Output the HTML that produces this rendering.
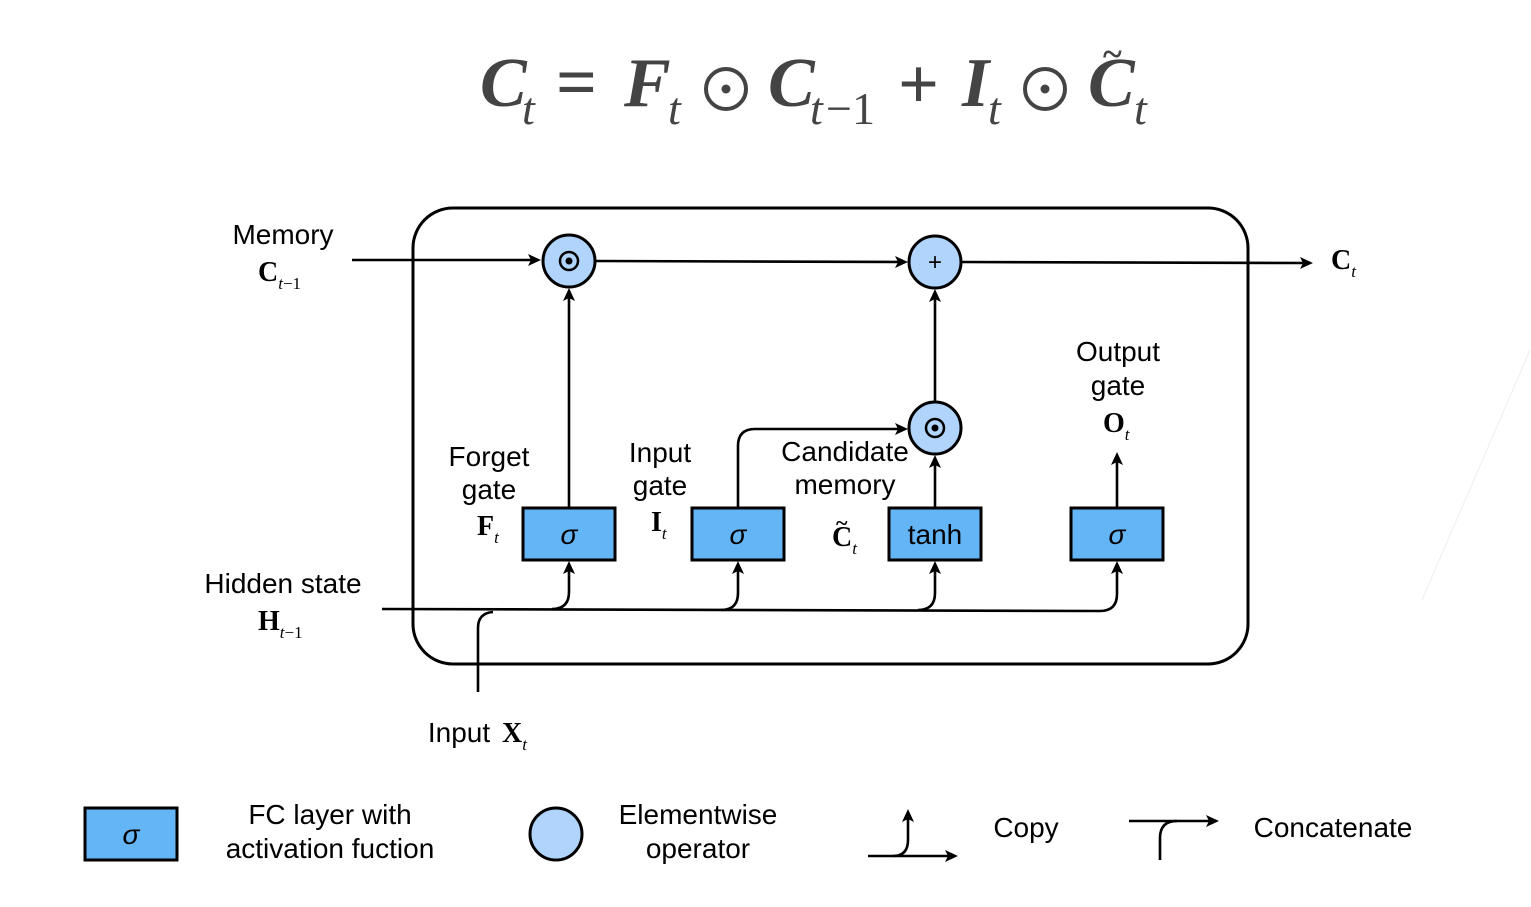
<!DOCTYPE html>
<html><head><meta charset="utf-8"><style>
html,body{margin:0;padding:0;background:#fff;width:1531px;height:907px;overflow:hidden}
svg{display:block}
.s{font-family:"Liberation Sans",sans-serif;font-size:28px;fill:#000}
.m{font-family:"Liberation Serif",serif;font-weight:bold;font-size:28px}
.sub{font-family:"Liberation Serif",serif;font-style:italic;font-weight:normal;font-size:17px}
.eq{font-family:"Liberation Serif",serif;font-style:italic;font-weight:bold;font-size:70px;fill:#444}
.eqs{font-family:"Liberation Serif",serif;font-style:italic;font-weight:normal;font-size:46px;fill:#444}
</style></head><body>
<svg width="1531" height="907" viewBox="0 0 1531 907" xmlns="http://www.w3.org/2000/svg">
<!-- equation -->
<text x="480" y="106" class="eq">C</text><text x="522" y="124" class="eqs">t</text>
<text x="556" y="106" style="font-family:'Liberation Serif',serif;font-size:72px;font-weight:bold;fill:#444">=</text>
<text x="624" y="106" class="eq">F</text><text x="668" y="124" class="eqs">t</text>
<circle cx="726" cy="89" r="20" fill="none" stroke="#444" stroke-width="4"/><circle cx="726" cy="89" r="4.5" fill="#444"/>
<text x="768" y="106" class="eq">C</text><text x="810" y="124" class="eqs">t</text>
<text x="826" y="124" style="font-family:'Liberation Serif',serif;font-size:46px;fill:#444">−1</text>
<text x="898" y="108" style="font-family:'Liberation Serif',serif;font-size:72px;font-weight:bold;fill:#444">+</text>
<text x="962" y="106" class="eq">I</text><text x="988" y="124" class="eqs">t</text>
<circle cx="1045" cy="89" r="20" fill="none" stroke="#444" stroke-width="4"/><circle cx="1045" cy="89" r="4.5" fill="#444"/>
<text x="1088" y="106" class="eq">C</text><text x="1134" y="124" class="eqs">t</text>
<text x="1103" y="66" style="font-family:'Liberation Serif',serif;font-size:36px;font-weight:bold;fill:#444">~</text>

<line x1="1530" y1="350" x2="1422" y2="600" stroke="#eee" stroke-width="1"/>

<rect x="413" y="208" width="835" height="456" rx="40" fill="none" stroke="#000" stroke-width="3"/>

<g stroke="#000" stroke-width="2.6" fill="none">
<line x1="352" y1="260" x2="536" y2="260"/>
<line x1="595" y1="261" x2="903" y2="262"/>
<line x1="961" y1="262" x2="1308" y2="263"/>
<line x1="569" y1="508" x2="569" y2="293"/>
<line x1="935" y1="402" x2="935" y2="294"/>
<line x1="935" y1="508" x2="935" y2="460"/>
<line x1="1117" y1="508" x2="1117" y2="457"/>
<path d="M738 508 V446 Q738 429 755 429 H903"/>
<path d="M382 609 L1100 611 Q1117 611 1117 594 V566"/>
<path d="M552 609 Q569 609 569 592 V566"/>
<path d="M721 610 Q738 610 738 593 V566"/>
<path d="M918 610 Q935 610 935 593 V566"/>
<path d="M478 692 V628 Q478 613 493 612"/>
</g>
<g fill="#000">
<path d="M541 260 l-13 -6 l3 6 l-3 6z"/>
<path d="M908 262 l-13 -6 l3 6 l-3 6z"/>
<path d="M1313 263 l-13 -6 l3 6 l-3 6z"/>
<path d="M908 429 l-13 -6 l3 6 l-3 6z"/>
<path d="M569 288 l-6 13 l6 -3 l6 3z"/>
<path d="M935 289 l-6 13 l6 -3 l6 3z"/>
<path d="M935 455 l-6 13 l6 -3 l6 3z"/>
<path d="M1117 452 l-6 13 l6 -3 l6 3z"/>
<path d="M569 561 l-6 13 l6 -3 l6 3z"/>
<path d="M738 561 l-6 13 l6 -3 l6 3z"/>
<path d="M935 561 l-6 13 l6 -3 l6 3z"/>
<path d="M1117 561 l-6 13 l6 -3 l6 3z"/>
</g>

<g stroke="#000" stroke-width="3" fill="#b0d4fb">
<circle cx="569" cy="261" r="26"/>
<circle cx="935" cy="262" r="26"/>
<circle cx="935" cy="428" r="26"/>
</g>
<g fill="none" stroke="#000" stroke-width="2.5"><circle cx="569" cy="261" r="9"/><circle cx="935" cy="428" r="9"/></g>
<circle cx="569" cy="261" r="3.5"/><circle cx="935" cy="428" r="3.5"/>
<text x="935" y="270" text-anchor="middle" style="font-family:'Liberation Sans';font-size:24px">+</text>

<g stroke="#000" stroke-width="3" fill="#64b5f6">
<rect x="523" y="508" width="92" height="52"/>
<rect x="692" y="508" width="92" height="52"/>
<rect x="889" y="508" width="92" height="52"/>
<rect x="1071" y="508" width="92" height="52"/>
</g>
<g class="s" text-anchor="middle" style="font-style:italic">
<text x="569" y="544">σ</text><text x="738" y="544">σ</text><text x="1117" y="544">σ</text>
</g>
<text x="935" y="544" class="s" text-anchor="middle">tanh</text>

<g class="s" text-anchor="middle">
<text x="283" y="244">Memory</text>
<text x="283" y="593">Hidden state</text>
<text x="489" y="466">Forget</text><text x="489" y="499">gate</text>
<text x="660" y="462">Input</text><text x="660" y="495">gate</text>
<text x="845" y="461">Candidate</text><text x="845" y="494">memory</text>
<text x="1118" y="361">Output</text><text x="1118" y="395">gate</text>
<text x="459" y="742">Input</text>
</g>
<text x="258" y="281" class="m">C<tspan class="sub" dy="8">t</tspan><tspan class="sub" style="font-style:normal">−1</tspan></text>
<text x="258" y="630" class="m">H<tspan class="sub" dy="8">t</tspan><tspan class="sub" style="font-style:normal">−1</tspan></text>
<text x="1331" y="269" class="m">C<tspan class="sub" dy="8">t</tspan></text>
<text x="477" y="535" class="m">F<tspan class="sub" dy="8">t</tspan></text>
<text x="651" y="531" class="m">I<tspan class="sub" dy="8">t</tspan></text>
<text x="832" y="546" class="m">C<tspan class="sub" dy="8">t</tspan></text>
<text x="836" y="530" style="font-family:'Liberation Serif';font-size:22px;font-weight:bold">~</text>
<text x="1103" y="432" class="m">O<tspan class="sub" dy="8">t</tspan></text>
<text x="502" y="742" class="m">X<tspan class="sub" dy="8">t</tspan></text>

<rect x="85" y="808" width="92" height="52" fill="#64b5f6" stroke="#000" stroke-width="3"/>
<text x="131" y="844" class="s" text-anchor="middle" style="font-style:italic">σ</text>
<text x="330" y="824" class="s" text-anchor="middle">FC layer with</text>
<text x="330" y="858" class="s" text-anchor="middle">activation fuction</text>
<ellipse cx="556" cy="834" rx="26" ry="26" fill="#b0d4fb" stroke="#000" stroke-width="3"/>
<text x="698" y="824" class="s" text-anchor="middle">Elementwise</text>
<text x="698" y="858" class="s" text-anchor="middle">operator</text>
<g stroke="#000" stroke-width="2.6" fill="none">
<path d="M868 856 H952"/>
<path d="M893 856 Q908 856 908 840 V815"/>
<path d="M1129 821 H1212"/>
<path d="M1160 860 V838 Q1160 821 1177 821"/>
</g>
<path d="M958 856 l-13 -6 l3 6 l-3 6z"/>
<path d="M908 809 l-6 13 l6 -3 l6 3z"/>
<path d="M1219 821 l-13 -6 l3 6 l-3 6z"/>
<text x="1026" y="837" class="s" text-anchor="middle">Copy</text>
<text x="1333" y="837" class="s" text-anchor="middle">Concatenate</text>
</svg>
</body></html>
